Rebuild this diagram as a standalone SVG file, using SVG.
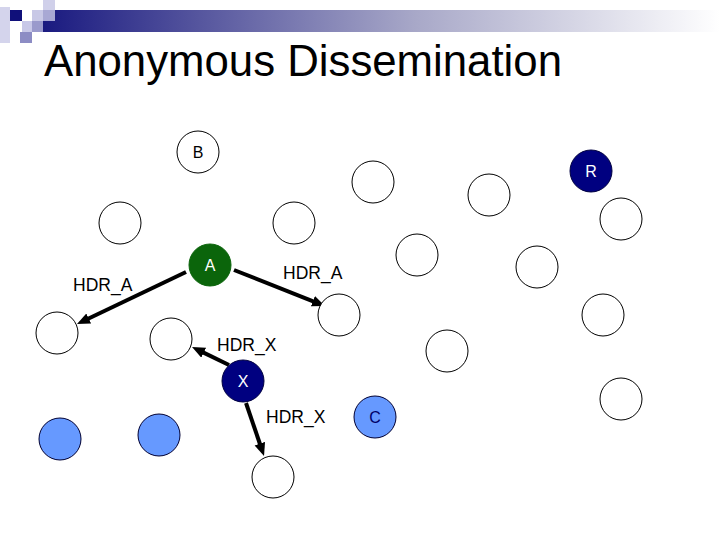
<svg xmlns="http://www.w3.org/2000/svg" width="720" height="540" viewBox="0 0 720 540">
<defs>
<linearGradient id="bar" x1="0" y1="0" x2="1" y2="0">
<stop offset="0" stop-color="#1a1a80"/>
<stop offset="0.55" stop-color="#a8a8c8"/>
<stop offset="1" stop-color="#ffffff"/>
</linearGradient>
<marker id="ah" markerUnits="userSpaceOnUse" markerWidth="14" markerHeight="12" refX="3" refY="5.5" orient="auto">
<path d="M0,0 L13,5.5 L0,11 z" fill="#000"/>
</marker>
<style>
.n{fill:#fff;stroke:#000;stroke-width:1}
.g{fill:#0b650b;stroke:#0b650b;stroke-width:1}
.nv{fill:#000080;stroke:#000040;stroke-width:1}
.bl{fill:#6699ff;stroke:#000033;stroke-width:1}
.t{font-family:"Liberation Sans",Arial,sans-serif;font-size:16px;text-anchor:middle}
.lb{font-family:"Liberation Sans",Arial,sans-serif;font-size:17.5px}
.c{stroke:#000;stroke-width:4;fill:none;marker-end:url(#ah)}
</style>
</defs>
<rect width="720" height="540" fill="#fff"/>
<g id="decor">
<rect x="43" y="10" width="677" height="22" fill="url(#bar)"/>
<rect x="0" y="7" width="10" height="36" fill="#d4d4ec"/>
<rect x="10" y="10" width="12" height="11" fill="#10107a"/>
<rect x="22" y="21" width="10" height="11" fill="#c8c8e8"/>
<rect x="32" y="10" width="11" height="11" fill="#c8c8e6"/>
<rect x="32" y="21" width="11" height="11" fill="#9a9acc"/>
<rect x="43" y="0" width="12" height="10" fill="#d0d0ea"/>
<rect x="43" y="10" width="12" height="11" fill="#a8a8d4"/>
<rect x="20" y="32" width="12" height="11" fill="#8c8cc4"/>
</g>
<text x="44" y="76" font-family="'Liberation Sans',Arial,sans-serif" font-size="45" textLength="518" lengthAdjust="spacingAndGlyphs">Anonymous Dissemination</text>
<g id="connectors">
<line class="c" x1="186" y1="272" x2="86" y2="319.7"/>
<line class="c" x1="234" y1="270" x2="315.7" y2="302.3"/>
<line class="c" x1="229" y1="365" x2="201" y2="351.4"/>
<line class="c" x1="246" y1="403" x2="260.8" y2="446.5"/>
</g>
<g id="labels">
<text class="lb" x="73" y="291">HDR_A</text>
<text class="lb" x="283" y="279">HDR_A</text>
<text class="lb" x="217" y="351">HDR_X</text>
<text class="lb" x="266" y="423">HDR_X</text>
</g>
<g id="nodeB"><circle class="n" cx="198" cy="152" r="21"/><text class="t" x="198" y="158">B</text></g>
<g id="nodeA"><circle class="g" cx="210" cy="265" r="21"/><text class="t" x="210" y="271" fill="#fff">A</text></g>
<g id="nodeR"><circle class="nv" cx="591" cy="171" r="21"/><text class="t" x="591" y="177" fill="#fff">R</text></g>
<g id="nodeX"><circle class="nv" cx="243" cy="381" r="21"/><text class="t" x="243" y="387" fill="#fff">X</text></g>
<g id="nodeC"><circle class="bl" cx="375" cy="417" r="21"/><text class="t" x="375" y="423" fill="#000066">C</text></g>
<g id="n1"><circle class="n" cx="120" cy="223" r="21"/></g>
<g id="n2"><circle class="n" cx="294" cy="223" r="21"/></g>
<g id="n3"><circle class="n" cx="373" cy="182" r="21"/></g>
<g id="n4"><circle class="n" cx="489" cy="195" r="21"/></g>
<g id="n5"><circle class="n" cx="621" cy="219" r="21"/></g>
<g id="n6"><circle class="n" cx="417" cy="255" r="21"/></g>
<g id="n7"><circle class="n" cx="537" cy="267" r="21"/></g>
<g id="n8"><circle class="n" cx="603" cy="315" r="21"/></g>
<g id="n9"><circle class="n" cx="57" cy="333" r="21"/></g>
<g id="n10"><circle class="n" cx="171" cy="339" r="21"/></g>
<g id="n11"><circle class="n" cx="339" cy="315" r="21"/></g>
<g id="n12"><circle class="n" cx="447" cy="351" r="21"/></g>
<g id="n13"><circle class="n" cx="621" cy="399" r="21"/></g>
<g id="n14"><circle class="n" cx="273" cy="477" r="21"/></g>
<g id="b1"><circle class="bl" cx="60" cy="439" r="21"/></g>
<g id="b2"><circle class="bl" cx="159" cy="435" r="21"/></g>
</svg>
